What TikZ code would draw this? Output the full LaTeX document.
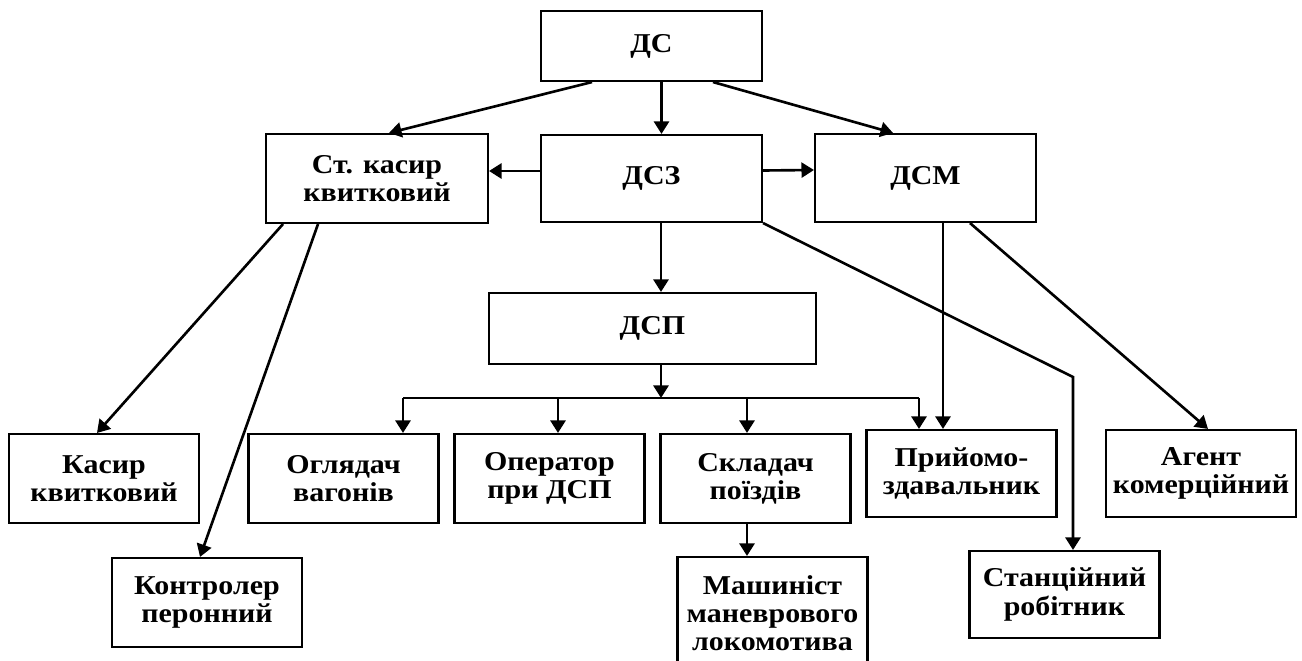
\documentclass[tikz,border=0pt]{standalone}
\usepackage{fontspec}
\setmainfont{Liberation Serif}[FakeStretch=1.1]
\usepackage{tikz}
\usetikzlibrary{arrows.meta}
\tikzstyle{post} = [rectangle, draw=black, line width=1.2pt, align=center, inner sep=2pt, minimum width=3.8cm, minimum height=1.78cm, font=\bfseries\fontsize{15.5}{16}\selectfont]
\tikzstyle{arrow} = [line width=1.5pt, -{Triangle[length=2.5mm,width=3mm]}]
\tikzstyle{link} = [line width=1.5pt]

\begin{document}
\begin{tikzpicture}
				[x=0.02cm, y=-0.02cm]
				\useasboundingbox (0,0) rectangle (1302,661);

				% top levels
				\node (ds) [post, minimum width=4.42cm, minimum height=1.4cm] at (651.5,46) {ДС};
				\node (dsz) [post, minimum width=4.42cm, minimum height=1.74cm] at (651.5,178.5) {ДСЗ};
				\node (stk) [post, minimum width=4.44cm] at (377,178.5) {Ст. касир\\квитковий};
				\node (dsm) [post, minimum width=4.42cm, minimum height=1.76cm] at (925.5,178) {ДСМ};
				\node (dsp) [post, minimum width=6.54cm, minimum height=1.42cm] at (652.5,328.5) {ДСП};

				% lower level
				\node (kas) [post] at (104,478.5) {Касир\\квитковий};
				\node (ogl) [post] at (343.5,478.5) {Оглядач\\вагонів};
				\node (opr) [post] at (549.5,478.5) {Оператор\\при ДСП};
				\node (skl) [post] at (755.5,478.5) {Складач\\поїздів};
				\node (prm) [post, minimum height=1.74cm] at (961.5,473.5) {Прийомо-\\здавальник};
				\node (agt) [post, minimum height=1.74cm] at (1201,473.5) {Агент\\комерційний};
				\node (kon) [post] at (207,602.5) {Контролер\\перонний};
				\node (msh) [post, minimum height=2.24cm] at (772.5,613) {Машиніст\\маневрового\\локомотива};
				\node (stn) [post, minimum height=1.74cm] at (1064.5,594.5) {Станційний\\робітник};

				\coordinate (busl) at (403,398);
				\coordinate (busr) at (919,398);
				\coordinate (bend) at (1073,377);

				\draw [arrow] ([xshift=-1.19cm]ds.south) -- ([xshift=0.24cm]stk.north);
				\draw [arrow] ([xshift=0.2cm]ds.south) -- ([xshift=0.2cm]dsz.north);
				\draw [arrow] ([xshift=1.23cm]ds.south) -- ([xshift=-0.65cm]dsm.north);
				\draw [arrow] ([yshift=0.15cm]dsz.west) -- ([yshift=0.15cm]stk.east);
				\draw [arrow] ([yshift=0.16cm]dsz.east) -- ([yshift=0.16cm]dsm.west);
				\draw [arrow] ([xshift=0.19cm]dsz.south) -- ([xshift=0.19cm]dsz.south |- dsp.north);
				\draw [arrow] (dsz.south east) -- (bend) -- (bend |- stn.north);
				\draw [arrow] ([xshift=0.17cm]dsp.south) -- ([xshift=0.17cm]dsp.south |- busl);
				\draw [link] (busl) -- (busr);
				\draw [arrow] (busl) -- (busl |- ogl.north);
				\draw [arrow] ([xshift=0.17cm]opr.north |- busl) -- ([xshift=0.17cm]opr.north);
				\draw [arrow] ([xshift=-0.17cm]skl.north |- busl) -- ([xshift=-0.17cm]skl.north);
				\draw [arrow] (busr) -- (busr |- prm.north);
				\draw [arrow] ([xshift=-0.17cm]skl.south) -- ([xshift=-0.17cm]skl.south |- msh.north);
				\draw [arrow] ([xshift=0.35cm]dsm.south) -- ([xshift=0.35cm]dsm.south |- prm.north);
				\draw [arrow] ([xshift=0.89cm]dsm.south) -- ([xshift=0.14cm]agt.north);
				\draw [arrow] ([xshift=-1.88cm]stk.south) -- ([xshift=-0.14cm]kas.north);
				\draw [arrow] ([xshift=-1.18cm]stk.south) -- ([xshift=-0.14cm]kon.north);
			\end{tikzpicture}
\end{document}
